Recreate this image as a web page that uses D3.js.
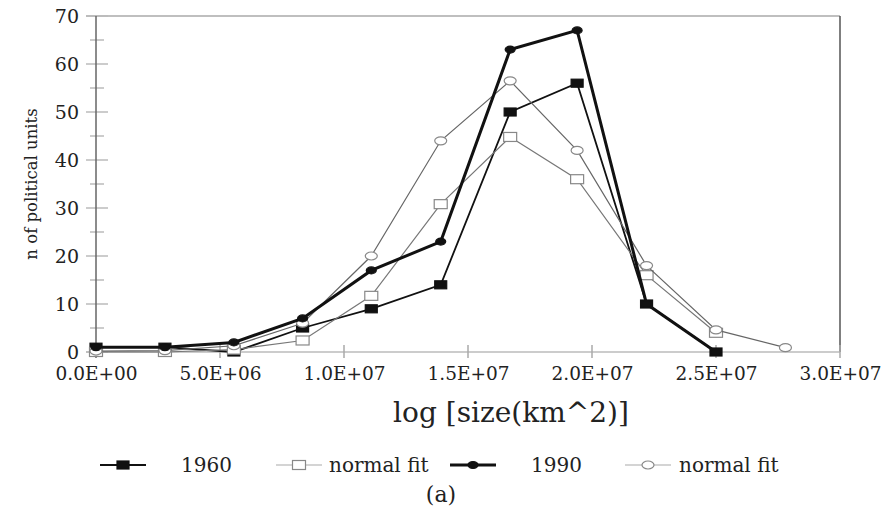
<!DOCTYPE html>
<html><head><meta charset="utf-8">
<script src="https://cdn.jsdelivr.net/npm/d3@7/dist/d3.min.js"></script>
<style>body{margin:0;background:#fff}svg{display:block}text{font-family:"DejaVu Serif",serif;fill:#222}</style>
</head><body><svg id="c" width="885" height="513"></svg>
<script>
const xValues = [0, 2.78e6, 5.56e6, 8.33e6, 1.11e7, 1.39e7, 1.67e7, 1.94e7, 2.22e7, 2.5e7, 2.78e7];
const series1960 = [1, 1, 0, 5, 9, 14, 50, 56, 10, 0];
const fit1960 = [0, 0, 0.5, 2.4, 11.7, 30.8, 44.8, 36, 16, 4];
const series1990 = [1, 1, 2, 7, 17, 23, 63, 67, 10, 0];
const fit1990 = [0.2, 0.3, 1.3, 6, 20, 44, 56.5, 42, 18, 4.6, 0.9];
const xTickValues = [0, 5e6, 1e7, 1.5e7, 2e7, 2.5e7, 3e7];
const xTickLabels = ["0.0E+00", "5.0E+06", "1.0E+07", "1.5E+07", "2.0E+07", "2.5E+07", "3.0E+07"];
const yTickValues = [0, 10, 20, 30, 40, 50, 60, 70];
const yMinorTicks = [5, 15, 25, 35, 45, 55, 65];
const legendLabels = ["1960", "normal fit", "1990", "normal fit"];

const svg = d3.select("#c");
const L = 96, R = 840, T = 16, B = 352;
const x = d3.scaleLinear().domain([0, 3e7]).range([L, R]);
const y = d3.scaleLinear().domain([0, 70]).range([B, T]);

// frame
svg.append("line").attr("x1", L - 10).attr("x2", R).attr("y1", T).attr("y2", T).attr("stroke", "#aaa").attr("stroke-width", 1.5);
svg.append("line").attr("x1", R).attr("x2", R).attr("y1", T).attr("y2", B).attr("stroke", "#555").attr("stroke-width", 1.5);

// y axis
const yAxis = svg.append("g").attr("transform", `translate(${L},0)`)
  .call(d3.axisLeft(y).tickValues(yTickValues).tickSize(0).tickPadding(17).tickFormat(d3.format("d")));
yAxis.select(".domain").remove();
yAxis.selectAll("text").style("font-size", "19px").attr("fill", "#222");
svg.selectAll(".ymaj").data(yTickValues).join("line")
  .attr("x1", L - 10).attr("x2", L + 12).attr("y1", d => y(d)).attr("y2", d => y(d))
  .attr("stroke", "#bbb").attr("stroke-width", 1.5);
svg.selectAll(".ymin").data(yMinorTicks).join("line")
  .attr("x1", L - 6).attr("x2", L + 8).attr("y1", d => y(d)).attr("y2", d => y(d))
  .attr("stroke", "#bbb").attr("stroke-width", 1.5);
svg.append("line").attr("x1", L).attr("x2", L).attr("y1", T).attr("y2", B + 6).attr("stroke", "#666").attr("stroke-width", 1.5);

// x axis
const xAxis = svg.append("g").attr("transform", `translate(0,${B})`)
  .call(d3.axisBottom(x).tickValues(xTickValues).tickSize(0).tickPadding(15).tickFormat((d, i) => xTickLabels[i]));
xAxis.select(".domain").remove();
xAxis.selectAll("text").style("font-size", "18.5px").attr("fill", "#222");
svg.append("line").attr("x1", L - 10).attr("x2", R).attr("y1", B).attr("y2", B).attr("stroke", "#bbb").attr("stroke-width", 1.5);
svg.selectAll(".xt").data(xTickValues.slice(1)).join("line")
  .attr("x1", d => x(d)).attr("x2", d => x(d)).attr("y1", B - 7).attr("y2", B + 6)
  .attr("stroke", "#aaa").attr("stroke-width", 1.5);

// titles
svg.append("text").attr("transform", "translate(37,184) rotate(-90)").attr("text-anchor", "middle")
  .style("font-size", "16.5px").text("n of political units");
svg.append("text").attr("x", 511).attr("y", 422).attr("text-anchor", "middle")
  .style("font-size", "28px").text("log [size(km^2)]");
svg.append("text").attr("x", 441).attr("y", 502).attr("text-anchor", "middle")
  .style("font-size", "22px").text("(a)");

const line = d3.line().x((d, i) => x(xValues[i])).y(d => y(d));
const styles = [
  {data: series1960, stroke: "#111", sw: 1.8, marker: "sq", fill: "#111", mstroke: "#111"},
  {data: fit1960, stroke: "#777", sw: 1.2, marker: "sq", fill: "#fff", mstroke: "#888"},
  {data: fit1990, stroke: "#666", sw: 1.2, marker: "ci", fill: "#fff", mstroke: "#888"},
  {data: series1990, stroke: "#111", sw: 3, marker: "ci", fill: "#111", mstroke: "#111"}
];
function drawMarker(g, s, cx, cy) {
  if (s.marker === "sq") {
    const w = s.fill === "#fff" ? 13 : 12, h = s.fill === "#fff" ? 9 : 8;
    g.append("rect").attr("x", cx - w / 2).attr("y", cy - h / 2).attr("width", w).attr("height", h)
      .attr("fill", s.fill).attr("stroke", s.mstroke).attr("stroke-width", 1.2);
  } else {
    const rx = s.fill === "#fff" ? 6 : 5, ry = s.fill === "#fff" ? 4 : 3.5;
    g.append("ellipse").attr("cx", cx).attr("cy", cy).attr("rx", rx).attr("ry", ry)
      .attr("fill", s.fill).attr("stroke", s.mstroke).attr("stroke-width", 1.2);
  }
}
styles.forEach(s => {
  const g = svg.append("g");
  g.append("path").attr("d", line(s.data)).attr("fill", "none").attr("stroke", s.stroke).attr("stroke-width", s.sw);
  s.data.forEach((v, i) => drawMarker(g, s, x(xValues[i]), y(v)));
});

// legend
const legendOrder = [styles[0], styles[1], styles[3], styles[2]];
const legX = [100, 276, 450, 625];
const legTextX = [181, 329, 531, 679];
const legY = 465;
legendOrder.forEach((s, i) => {
  const g = svg.append("g");
  g.append("line").attr("x1", legX[i]).attr("x2", legX[i] + 46).attr("y1", legY).attr("y2", legY)
    .attr("stroke", s.fill === "#fff" ? "#aaa" : "#111").attr("stroke-width", s.sw);
  drawMarker(g, s, legX[i] + 23, legY);
  g.append("text").attr("x", legTextX[i]).attr("y", legY + 7).style("font-size", "20px").text(legendLabels[i]);
});
</script></body></html>
